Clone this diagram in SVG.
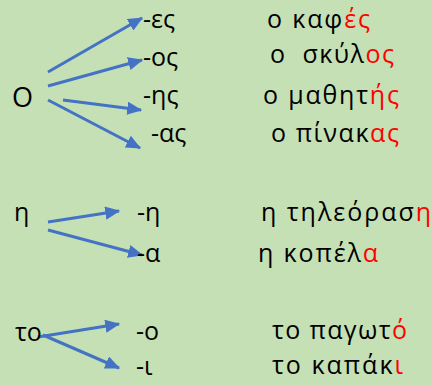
<svg xmlns="http://www.w3.org/2000/svg" width="432" height="385" viewBox="0 0 432 385">
<style>
text{font-family:"Open Sans","Noto Sans","DejaVu Sans",sans-serif;font-size:25px;fill:#000}
.r{fill:#ff0000}
.big{font-size:27px}
.c{stroke:#4472c4;stroke-width:3;fill:none;marker-end:url(#ah)}
</style>
<defs>
<marker id="ah" markerWidth="5" markerHeight="4.4" refX="4.6" refY="2.2" orient="auto" markerUnits="strokeWidth">
<path d="M0,0 L5,2.2 L0,4.4 Z" fill="#4472c4"/>
</marker>
</defs>
<rect width="432" height="385" fill="#c5e0b4"/>
<g id="connectors">
<line class="c" x1="48" y1="72" x2="142" y2="18"/>
<line class="c" x1="48" y1="86" x2="142" y2="60"/>
<line class="c" x1="63" y1="100" x2="141" y2="110"/>
<line class="c" x1="48" y1="100" x2="140" y2="148"/>
<line class="c" x1="48" y1="222" x2="119" y2="211"/>
<line class="c" x1="48" y1="230" x2="142" y2="255"/>
<line class="c" x1="38" y1="337" x2="119" y2="324"/>
<line class="c" x1="43" y1="335" x2="119" y2="368"/>
</g>
<g id="n-o"><text class="big" x="12" y="107">Ο</text></g>
<g id="n-es"><text x="143" y="28">-ες</text></g>
<g id="n-os"><text x="143" y="66">-ος</text></g>
<g id="n-is"><text x="143" y="104">-ης</text></g>
<g id="n-as"><text x="151" y="142">-ας</text></g>
<g id="w-kafes"><text x="267" y="28" textLength="103" lengthAdjust="spacing">ο καφ<tspan class="r">ές</tspan></text></g>
<g id="w-skylos"><text x="270" y="63" xml:space="preserve" textLength="124" lengthAdjust="spacing">ο  σκύλ<tspan class="r">ος</tspan></text></g>
<g id="w-mathitis"><text x="263" y="104" textLength="136" lengthAdjust="spacing">ο μαθητ<tspan class="r">ής</tspan></text></g>
<g id="w-pinakas"><text x="271" y="142" textLength="128" lengthAdjust="spacing">ο πίνακ<tspan class="r">ας</tspan></text></g>
<g id="n-i"><text x="14" y="221">η</text></g>
<g id="n-eta"><text x="137" y="221">-η</text></g>
<g id="n-a"><text x="137" y="262">-α</text></g>
<g id="w-tileorasi"><text x="261" y="221" textLength="170" lengthAdjust="spacing">η τηλεόρασ<tspan class="r">η</tspan></text></g>
<g id="w-kopela"><text x="258" y="262" textLength="120" lengthAdjust="spacing">η κοπέλ<tspan class="r">α</tspan></text></g>
<g id="n-to"><text x="15" y="341">το</text></g>
<g id="n-omicron"><text x="136" y="340">-ο</text></g>
<g id="n-iota"><text x="136" y="375">-ι</text></g>
<g id="w-pagoto"><text x="272" y="339" textLength="135" lengthAdjust="spacing">το παγωτ<tspan class="r">ό</tspan></text></g>
<g id="w-kapaki"><text x="272" y="374" textLength="131" lengthAdjust="spacing">το καπάκ<tspan class="r">ι</tspan></text></g>
</svg>
